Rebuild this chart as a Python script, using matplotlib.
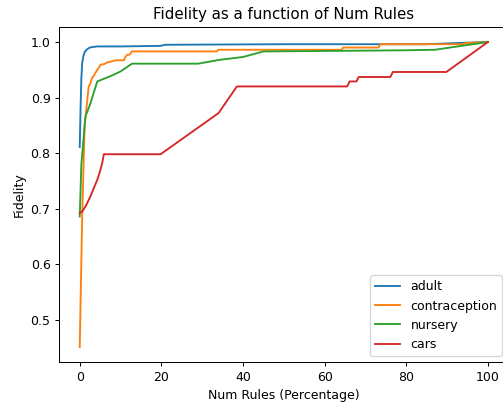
import matplotlib
matplotlib.use("Agg")
from matplotlib import pyplot as plt

# values (x = percentage of rules, y = fidelity)
adult_x = [0, 0.2, 0.4, 0.6, 0.9, 1.3, 1.8, 2.5, 3.3, 4.3, 10, 19.7, 21, 50, 85, 92, 100]
adult_y = [0.811, 0.88, 0.935, 0.962, 0.975, 0.983, 0.987, 0.99, 0.991, 0.992, 0.992, 0.993, 0.995, 0.996, 0.996, 0.998, 1.0]

contra_x = [0, 0.6, 1.2, 2.2, 2.6, 3.0, 3.5, 4.3, 4.8, 5.1, 5.9, 6.7, 7.8, 8.7, 10.8, 11.1, 11.6, 12.2, 12.8,
            33.6, 33.9, 64.2, 64.5, 73.2, 73.6, 94, 94.4, 100]
contra_y = [0.451, 0.686, 0.85, 0.92, 0.925, 0.935, 0.94, 0.95, 0.955, 0.959, 0.96, 0.963, 0.965, 0.967, 0.967, 0.972, 0.977, 0.977, 0.983,
            0.983, 0.986, 0.986, 0.99, 0.99, 0.996, 0.996, 0.998, 1.0]

nursery_x = [0, 0.4, 1.4, 2.5, 4.3, 6, 8, 10, 12.8, 29, 34.4, 40, 45, 62, 79, 87, 100]
nursery_y = [0.686, 0.78, 0.866, 0.887, 0.929, 0.934, 0.94, 0.947, 0.961, 0.961, 0.968, 0.973, 0.983, 0.984, 0.985, 0.986, 1.0]

cars_x = [0, 0.6, 1.5, 2.6, 3.5, 4.3, 5.0, 5.5, 5.9, 19.8, 34.0, 38.5, 65.5, 66.1, 67.8, 68.3, 76.1, 76.7, 89.8, 100]
cars_y = [0.692, 0.695, 0.705, 0.722, 0.738, 0.752, 0.768, 0.782, 0.798, 0.798, 0.872, 0.92, 0.92, 0.929, 0.929, 0.937, 0.937, 0.946, 0.946, 1.0]

# reference looks like default style rendered at ~90 dpi, right side cropped
dpi = 90
fig = plt.figure(figsize=(504 / dpi, 405 / dpi), dpi=dpi)
ax = fig.add_axes([0.1177, 0.1054, 0.891, 0.8286])

ax.plot(adult_x, adult_y, label="adult")
ax.plot(contra_x, contra_y, label="contraception")
ax.plot(nursery_x, nursery_y, label="nursery")
ax.plot(cars_x, cars_y, label="cars")

ax.set_title("Fidelity as a function of Num Rules")
ax.set_xlabel("Num Rules (Percentage)")
ax.set_ylabel("Fidelity")
ax.legend(loc="lower right")

fig.savefig("out.png", dpi=dpi)
